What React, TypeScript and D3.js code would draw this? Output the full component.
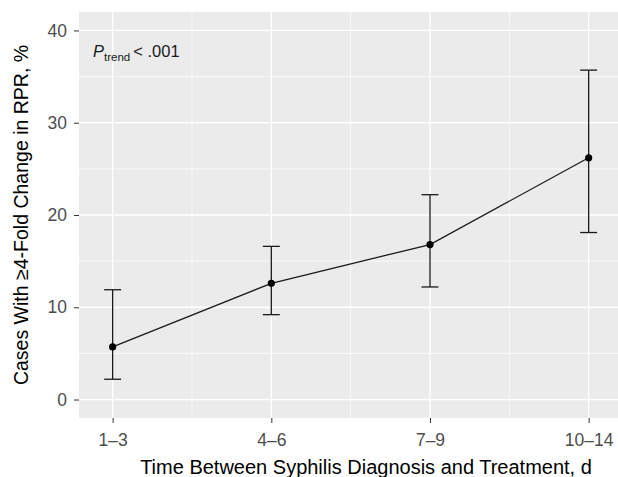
import React, { useEffect, useRef } from "react";
import * as d3 from "d3";

// intervalos de tempo (dias) entre diagnóstico e tratamento
const categories = ["1–3", "4–6", "7–9", "10–14"];
const estimates = [5.7, 12.6, 16.8, 26.2];
const lower = [2.2, 9.2, 12.2, 18.1];
const upper = [11.9, 16.6, 22.2, 35.7];
const yTicks = [0, 10, 20, 30, 40];
const yMinor = [5, 15, 25, 35];

function TrendChart() {
  const ref = useRef<SVGSVGElement>(null);

  useEffect(() => {
    const width = 618;
    const height = 477;
    const panel = { left: 79, top: 12, right: 622.3, bottom: 418 };
    const font = "'Liberation Sans', Arial, Helvetica, sans-serif";

    d3.select(ref.current).selectAll("*").remove();

    const svg = d3
      .select(ref.current)
      .attr("width", width)
      .attr("height", height)
      .style("font-family", font);

    const idx = categories.map((_, i) => i + 1);

    const x = d3.scaleLinear().domain([0.788, 4.212]).range([panel.left, panel.right]);
    const y = d3.scaleLinear().domain([-2, 42]).range([panel.bottom, panel.top]);

    // Painel
    svg
      .append("rect")
      .attr("x", panel.left)
      .attr("y", panel.top)
      .attr("width", panel.right - panel.left)
      .attr("height", panel.bottom - panel.top)
      .attr("fill", "#EBEBEB");

    const grid = svg.append("g").attr("stroke", "#ffffff");

    grid
      .selectAll(".ymin")
      .data(yMinor)
      .join("line")
      .attr("x1", panel.left)
      .attr("x2", panel.right)
      .attr("y1", d => y(d))
      .attr("y2", d => y(d))
      .attr("stroke-width", 0.7);

    grid
      .selectAll(".xmin")
      .data(idx.slice(0, -1).map(d => d + 0.5))
      .join("line")
      .attr("x1", d => x(d))
      .attr("x2", d => x(d))
      .attr("y1", panel.top)
      .attr("y2", panel.bottom)
      .attr("stroke-width", 0.7);

    grid
      .selectAll(".ymaj")
      .data(yTicks)
      .join("line")
      .attr("x1", panel.left)
      .attr("x2", panel.right)
      .attr("y1", d => y(d))
      .attr("y2", d => y(d))
      .attr("stroke-width", 1.3);

    grid
      .selectAll(".xmaj")
      .data(idx)
      .join("line")
      .attr("x1", d => x(d))
      .attr("x2", d => x(d))
      .attr("y1", panel.top)
      .attr("y2", panel.bottom)
      .attr("stroke-width", 1.3);

    // Eixo Y
    const gy = svg
      .append("g")
      .attr("transform", `translate(${panel.left},0)`)
      .call(d3.axisLeft(y).tickValues(yTicks).tickSize(5).tickPadding(7));
    gy.select(".domain").remove();
    gy.selectAll("line").attr("stroke", "#333333").attr("stroke-width", 1);
    gy.selectAll("text").attr("fill", "#4D4D4D").style("font-size", "17.5px").style("font-family", font);

    // Eixo X
    const gx = svg
      .append("g")
      .attr("transform", `translate(0,${panel.bottom})`)
      .call(
        d3
          .axisBottom(x)
          .tickValues(idx)
          .tickFormat(d => categories[(d as number) - 1])
          .tickSize(5)
          .tickPadding(11)
      );
    gx.select(".domain").remove();
    gx.selectAll("line").attr("stroke", "#333333").attr("stroke-width", 1);
    gx.selectAll("text").attr("fill", "#4D4D4D").style("font-size", "17.5px").style("font-family", font);

    // Linha
    const line = d3
      .line<number>()
      .x((_, i) => x(i + 1))
      .y(d => y(d));

    svg
      .append("path")
      .datum(estimates)
      .attr("d", line)
      .attr("fill", "none")
      .attr("stroke", "#1a1a1a")
      .attr("stroke-width", 1.3);

    // Barras de erro
    const eb = svg.append("g").attr("stroke", "#1a1a1a").attr("stroke-width", 1.3);
    const capW = 8.5;
    idx.forEach((c, i) => {
      eb.append("line")
        .attr("x1", x(c)).attr("x2", x(c))
        .attr("y1", y(lower[i])).attr("y2", y(upper[i]));
      eb.append("line")
        .attr("x1", x(c) - capW).attr("x2", x(c) + capW)
        .attr("y1", y(lower[i])).attr("y2", y(lower[i]));
      eb.append("line")
        .attr("x1", x(c) - capW).attr("x2", x(c) + capW)
        .attr("y1", y(upper[i])).attr("y2", y(upper[i]));
    });

    // Pontos
    svg
      .selectAll(".pt")
      .data(estimates)
      .join("circle")
      .attr("cx", (_, i) => x(i + 1))
      .attr("cy", d => y(d))
      .attr("r", 3.6)
      .attr("fill", "#000000");

    // Anotação P de tendência
    const ann = svg
      .append("text")
      .attr("x", 93)
      .attr("y", 57)
      .attr("fill", "#1a1a1a")
      .style("font-size", "16.5px");
    ann.append("tspan").style("font-style", "italic").text("P");
    ann.append("tspan").attr("dy", 4).style("font-size", "11.5px").text("trend");
    ann.append("tspan").attr("dy", -4).attr("dx", 3).text("< .001");

    // Títulos
    svg
      .append("text")
      .attr("x", 366)
      .attr("y", 474)
      .attr("text-anchor", "middle")
      .attr("fill", "#000000")
      .style("font-size", "20px")
      .text("Time Between Syphilis Diagnosis and Treatment, d");

    svg
      .append("text")
      .attr("transform", `translate(28,${(panel.top + panel.bottom) / 2}) rotate(-90)`)
      .attr("text-anchor", "middle")
      .attr("fill", "#000000")
      .style("font-size", "19.5px")
      .text("Cases With ≥4-Fold Change in RPR, %");
  }, []);

  return <svg ref={ref} style={{ position: "absolute", left: 0, top: 0 }}></svg>;
}

export default function App() {
  return <TrendChart />;
}
